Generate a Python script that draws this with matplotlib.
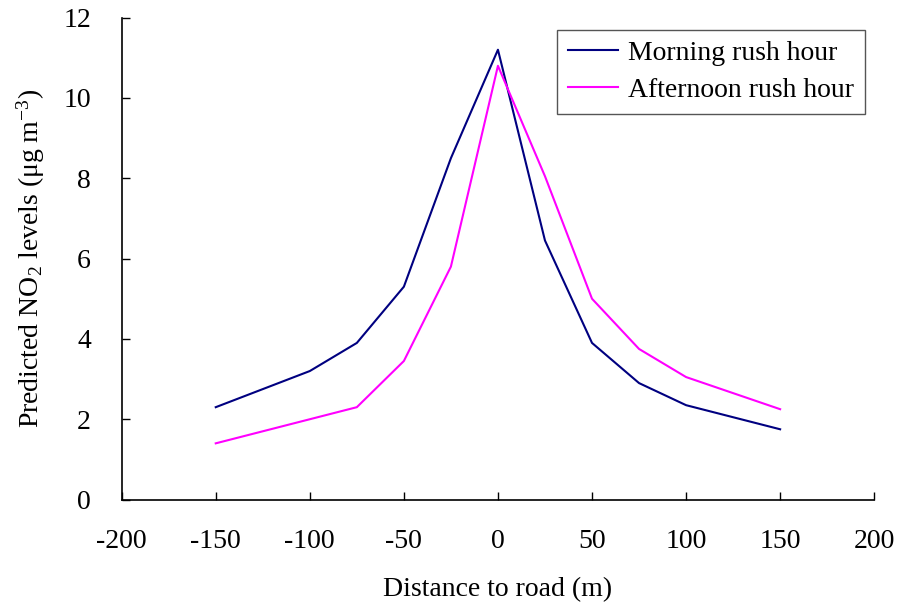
import matplotlib
matplotlib.use("Agg")
import matplotlib.pyplot as plt

# distance to road (m) and predicted NO2 levels
distance = [-150, -100, -75, -50, -25, 0, 25, 50, 75, 100, 150]
morning = [2.3, 3.2, 3.9, 5.3, 8.5, 11.2, 6.45, 3.9, 2.9, 2.35, 1.75]
afternoon = [1.4, 2.0, 2.3, 3.45, 5.8, 10.8, 8.05, 5.0, 3.75, 3.05, 2.25]

xticks = [-200, -150, -100, -50, 0, 50, 100, 150, 200]
yticks = [0, 2, 4, 6, 8, 10, 12]

plt.rcParams['font.family'] = ['Liberation Serif', 'DejaVu Serif']
plt.rcParams['mathtext.fontset'] = 'custom'
plt.rcParams['mathtext.rm'] = 'Liberation Serif'
plt.rcParams['axes.unicode_minus'] = False

fig = plt.figure(figsize=(8.98, 6.07), dpi=100)
ax = fig.add_axes([0.1355, 0.177, 0.838, 0.794])

ax.plot(distance, morning, color='#000080', linewidth=1.5, label='Morning rush hour')
ax.plot(distance, afternoon, color='#ff00ff', linewidth=1.5, label='Afternoon rush hour')

ax.set_xlim(-200, 200)
ax.set_ylim(0, 12)
ax.set_xticks(xticks)
ax.set_yticks(yticks)
ax.tick_params(direction='in', length=6, width=1, labelsize=20)
ax.tick_params(axis='x', pad=21)
ax.tick_params(axis='y', pad=22)

for side in ('top', 'right'):
    ax.spines[side].set_visible(False)
for side in ('left', 'bottom'):
    ax.spines[side].set_linewidth(1.2)

ax.set_xlabel('Distance to road (m)', fontsize=20, labelpad=17)
ax.set_ylabel(r'Predicted NO$\mathregular{_2}$ levels (μg m$\mathregular{^{-3}}$)', fontsize=20, labelpad=12)

leg = ax.legend(loc='upper right', bbox_to_anchor=(0.988, 0.975), borderaxespad=0,
                fontsize=20, fancybox=False, edgecolor='#555555', framealpha=1,
                handlelength=1.8, borderpad=0.4, labelspacing=0.4, handletextpad=0.35)
leg.get_frame().set_linewidth(1.0)

fig.savefig('out.png', dpi=100)
